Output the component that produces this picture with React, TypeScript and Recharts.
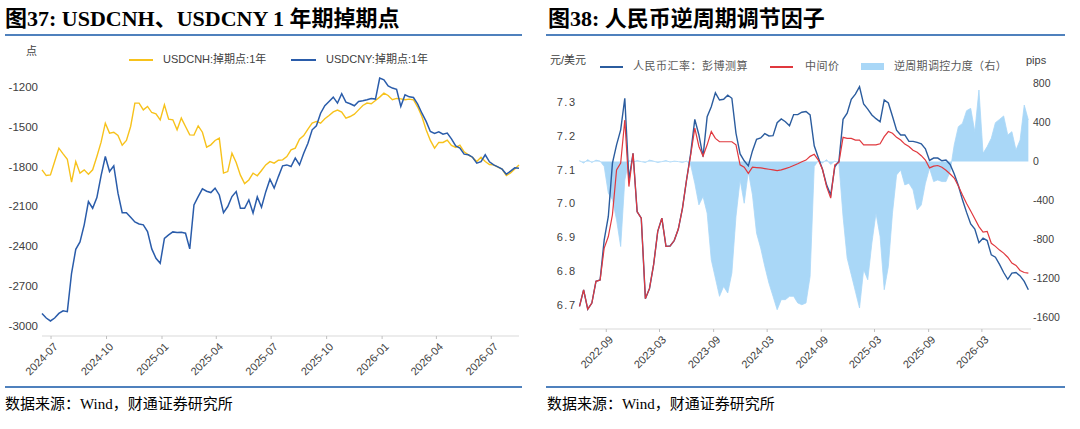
import React from 'react';
import { LineChart, ComposedChart, Line, Area, XAxis, YAxis } from 'recharts';

const DAY = 86400000;
const utc = (s: string) => {
  const [y, m, d] = s.split('-').map(Number);
  return Date.UTC(y, m - 1, d);
};

// ---- 图37: weekly 1y swap points ----
const swapStart = '2024-06-16';
const swapEnd = '2026-08-16';
const swapStepDays = 7;
const swapTicks = ['2024-07-01', '2024-10-01', '2025-01-01', '2025-04-01', '2025-07-01', '2025-10-01', '2026-01-01', '2026-04-01', '2026-07-01'];
const swapYTicks = [-3000, -2700, -2400, -2100, -1800, -1500, -1200];
const usdcnh = [
  -1825, -1868, -1863, -1763, -1662, -1705, -1745, -1918, -1763, -1850,
  -1825, -1858, -1825, -1725, -1617, -1474, -1549, -1542, -1567, -1640,
  -1604, -1499, -1323, -1323, -1374, -1348, -1394, -1404, -1449, -1336,
  -1444, -1449, -1524, -1436, -1499, -1562, -1564, -1494, -1542, -1655,
  -1637, -1604, -1587, -1850, -1838, -1700, -1770, -1865, -1928, -1901,
  -1850, -1870, -1830, -1788, -1763, -1775, -1753, -1750, -1725, -1675,
  -1662, -1594, -1567, -1519, -1474, -1461, -1474, -1441, -1416, -1389,
  -1376, -1391, -1436, -1424, -1406, -1374, -1341, -1323, -1328, -1303,
  -1278, -1248, -1266, -1298, -1288, -1291, -1298, -1293, -1298, -1353,
  -1424, -1524, -1604, -1662, -1619, -1619, -1602, -1642, -1657, -1640,
  -1690, -1712, -1732, -1763, -1730, -1763, -1785, -1788, -1805, -1820,
  -1868, -1848, -1818, -1788,
];
const usdcny = [
  -2905, -2940, -2962, -2940, -2905, -2885, -2892, -2603, -2423, -2367,
  -2239, -2064, -2114, -2034, -1868, -1725, -1838, -1795, -2001, -2147,
  -2147, -2182, -2217, -2232, -2239, -2290, -2420, -2490, -2528, -2340,
  -2315, -2292, -2297, -2295, -2302, -2420, -2089, -2026, -1968, -1986,
  -1996, -1963, -2014, -2147, -2101, -2026, -1988, -2114, -2114, -2051,
  -2150, -2029, -2106, -1991, -1896, -1963, -1876, -1795, -1788, -1800,
  -1737, -1788, -1700, -1625, -1524, -1494, -1399, -1343, -1311, -1278,
  -1323, -1253, -1316, -1328, -1343, -1311, -1306, -1298, -1288, -1293,
  -1135, -1148, -1193, -1210, -1220, -1348, -1261, -1276, -1281, -1331,
  -1399, -1461, -1537, -1552, -1539, -1557, -1549, -1592, -1645, -1662,
  -1707, -1712, -1730, -1775, -1763, -1712, -1765, -1788, -1803, -1820,
  -1858, -1835, -1810, -1813,
];

// ---- 图38: biweekly CNY counter-cyclical factor ----
const ccfStart = '2022-06-02';
const ccfEnd = '2026-08-15';
const ccfStepDays = 14;
const ccfTicks = ['2022-09-01', '2023-03-01', '2023-09-01', '2024-03-01', '2024-09-01', '2025-03-01', '2025-09-01', '2026-03-01'];
const rateTicks = [6.7, 6.8, 6.9, 7.0, 7.1, 7.2, 7.3];
const pipsTicks = [-1600, -1200, -800, -400, 0, 400, 800];
// 人民币汇率：彭博测算
const bbgModel = [
  6.697, 6.746, 6.689, 6.707, 6.771, 6.775, 6.893, 6.962, 7.119, 7.173,
  7.217, 7.310, 7.070, 7.148, 6.976, 6.957, 6.720, 6.750, 6.820, 6.918,
  6.957, 6.874, 6.875, 6.891, 6.925, 6.986, 7.070, 7.148, 7.248, 7.202,
  7.138, 7.256, 7.285, 7.326, 7.305, 7.307, 7.319, 7.310, 7.207, 7.146,
  7.126, 7.111, 7.155, 7.189, 7.193, 7.206, 7.199, 7.200, 7.238, 7.249,
  7.241, 7.229, 7.262, 7.262, 7.269, 7.271, 7.261, 7.170, 7.135, 7.101,
  7.055, 7.025, 7.108, 7.125, 7.248, 7.266, 7.307, 7.322, 7.344, 7.293,
  7.278, 7.261, 7.250, 7.241, 7.305, 7.296, 7.257, 7.216, 7.202, 7.202,
  7.183, 7.183, 7.180, 7.176, 7.161, 7.127, 7.134, 7.134, 7.126, 7.128,
  7.115, 7.087, 7.053, 7.011, 6.974, 6.940, 6.925, 6.885, 6.898, 6.891,
  6.849, 6.842, 6.821, 6.797, 6.777, 6.795, 6.797, 6.787, 6.771, 6.746,
];
// 中间价
const midRate = [
  6.697, 6.746, 6.689, 6.707, 6.771, 6.775, 6.869, 6.903, 6.967, 7.099,
  7.119, 7.246, 7.050, 7.148, 6.976, 6.957, 6.720, 6.750, 6.820, 6.918,
  6.957, 6.874, 6.875, 6.891, 6.925, 6.986, 7.070, 7.143, 7.222, 7.168,
  7.140, 7.173, 7.212, 7.192, 7.182, 7.182, 7.182, 7.182, 7.173, 7.114,
  7.107, 7.089, 7.107, 7.106, 7.105, 7.103, 7.101, 7.099, 7.097, 7.099,
  7.103, 7.107, 7.112, 7.117, 7.123, 7.128, 7.139, 7.145, 7.128, 7.101,
  7.050, 7.016, 7.114, 7.121, 7.195, 7.192, 7.192, 7.187, 7.187, 7.173,
  7.173, 7.173, 7.173, 7.176, 7.197, 7.212, 7.207, 7.195, 7.187, 7.175,
  7.168, 7.157, 7.151, 7.141, 7.128, 7.105, 7.110, 7.112, 7.107, 7.098,
  7.087, 7.075, 7.052, 7.025, 7.000, 6.978, 6.955, 6.932, 6.916, 6.918,
  6.883, 6.874, 6.863, 6.854, 6.842, 6.825, 6.818, 6.803, 6.797, 6.795,
];
// 逆周期调控力度（右）, pips
const ccfPips = [
  10, -15, 20, -10, 15, 5, -51, -324, -392, -597,
  -871, -188, 10, -5, 10, 0, -10, 15, 5, -10,
  0, 10, -5, 5, 0, -10, 5, -34, -222, -444,
  -358, -529, -1007, -1195, -1382, -1280, -1348, -1143, -563, -188,
  -427, -102, -341, -734, -887, -1075, -1246, -1382, -1519, -1416,
  -1416, -1382, -1382, -1450, -1468, -1450, -1177, -51, 10, -15,
  20, -30, 5, -20, -563, -990, -1160, -1331, -1502, -1109,
  -1212, -836, -529, -768, -1314, -1075, -529, -137, -85, -239,
  -222, -290, -495, -444, -222, -68, -205, -188, -205, -205,
  -102, 171, 358, 392, 522, 546, 307, 734, 85, 154,
  239, 399, 433, 468, 273, 307, 119, 222, 580, 427,
];

const swapData = usdcnh.map((v, i) => ({
  t: utc(swapStart) + i * swapStepDays * DAY,
  cnh: v,
  cny: usdcny[i],
}));
const ccfData = midRate.map((v, i) => ({
  t: utc(ccfStart) + i * ccfStepDays * DAY,
  bbg: bbgModel[i],
  mid: v,
  ccf: ccfPips[i],
}));

const SANS = '"Liberation Sans", Arial, "Noto Sans CJK SC", sans-serif';
const SERIF = '"Liberation Serif", "Times New Roman", "Noto Sans CJK SC", serif';
const RULE = '#4f81bd';

function DateTick({ x, y, payload }: any) {
  const d = new Date(payload.value);
  const label = `${d.getUTCFullYear()}-${String(d.getUTCMonth() + 1).padStart(2, '0')}`;
  return (
    <g transform={`translate(${x + 2},${y + 1})`}>
      <text x={0} y={0} dy="0.7em" textAnchor="end" transform="rotate(-45)" fontSize={11} fill="#404040" fontFamily={SANS}>
        {label}
      </text>
    </g>
  );
}

const abs = (left: number, top: number, extra: React.CSSProperties = {}): React.CSSProperties => ({
  position: 'absolute', left, top, whiteSpace: 'nowrap', lineHeight: 1, ...extra,
});

export default function App() {
  return (
    <div style={{ position: 'absolute', left: 0, top: 0, width: 1080, height: 429, background: '#fff', overflow: 'hidden' }}>
      {/* titles */}
      <div style={abs(5, 8, { fontFamily: SERIF, fontWeight: 'bold', fontSize: 22, color: '#000' })}>
        图37: USDCNH、USDCNY 1 年期掉期点
      </div>
      <div style={abs(548, 8, { fontFamily: SERIF, fontWeight: 'bold', fontSize: 22, color: '#000' })}>
        图38: 人民币逆周期调节因子
      </div>
      <div style={abs(5, 34, { width: 517, height: 2, background: RULE })} />
      <div style={abs(546, 34, { width: 519, height: 2, background: RULE })} />
      <div style={abs(5, 386, { width: 517, height: 2, background: RULE })} />
      <div style={abs(546, 386, { width: 519, height: 2, background: RULE })} />
      <div style={abs(5, 397, { fontFamily: SERIF, fontSize: 15, color: '#000' })}>数据来源：Wind，财通证券研究所</div>
      <div style={abs(547, 397, { fontFamily: SERIF, fontSize: 15, color: '#000' })}>数据来源：Wind，财通证券研究所</div>

      {/* left chart labels and legend */}
      <div style={abs(26, 46, { fontFamily: SANS, fontSize: 11, color: '#404040' })}>点</div>
      <div style={abs(129, 59, { width: 24, height: 1.5, background: '#f7c21b' })} />
      <div style={abs(163, 54, { fontFamily: SANS, fontSize: 11, color: '#404040' })}>USDCNH:掉期点:1年</div>
      <div style={abs(291, 59, { width: 25, height: 1.5, background: '#2a5caa' })} />
      <div style={abs(326, 54, { fontFamily: SANS, fontSize: 11, color: '#404040' })}>USDCNY:掉期点:1年</div>

      {/* right chart labels and legend */}
      <div style={abs(550, 55, { fontFamily: SANS, fontSize: 11, color: '#404040' })}>元/美元</div>
      <div style={abs(1026, 55, { fontFamily: SANS, fontSize: 11, color: '#404040' })}>pips</div>
      <div style={abs(600, 66, { width: 23, height: 1.5, background: '#2b5c9e' })} />
      <div style={abs(633, 61, { fontFamily: SANS, fontSize: 11, color: '#595959', letterSpacing: 0.5 })}>人民币汇率：彭博测算</div>
      <div style={abs(770, 66, { width: 23, height: 1.5, background: '#e0383e' })} />
      <div style={abs(805, 61, { fontFamily: SANS, fontSize: 11, color: '#595959', letterSpacing: 0.5 })}>中间价</div>
      <div style={abs(861, 63, { width: 23, height: 7, background: '#a9d7f7' })} />
      <div style={abs(894, 61, { fontFamily: SANS, fontSize: 11, color: '#595959', letterSpacing: 0.3 })}>逆周期调控力度（右）</div>

      {/* 图37 chart */}
      <div style={abs(0, 0)}>
        <LineChart width={540} height={429} data={swapData} margin={{ top: 66, right: 21, bottom: 43, left: 4 }}>
          <XAxis
            dataKey="t"
            type="number"
            domain={[utc(swapStart), utc(swapEnd)]}
            ticks={swapTicks.map(utc)}
            interval={0}
            tick={<DateTick />}
            tickSize={3}
            tickMargin={2}
            tickLine={{ stroke: '#bfbfbf' }}
            axisLine={{ stroke: '#d9d9d9' }}
            height={50}
          />
          <YAxis
            domain={[-3075, -1044]}
            ticks={swapYTicks}
            interval={0}
            width={38}
            axisLine={false}
            tickLine={false}
            tickSize={0}
            tickMargin={4}
            tick={{ fill: '#404040', fontSize: 11.5, fontFamily: SANS }}
          />
          <Line dataKey="cnh" stroke="#f7c21b" strokeWidth={1.4} dot={false} activeDot={false} isAnimationActive={false} />
          <Line dataKey="cny" stroke="#2a5caa" strokeWidth={1.5} dot={false} activeDot={false} isAnimationActive={false} />
        </LineChart>
      </div>

      {/* 图38 chart */}
      <div style={abs(540, 0)}>
        <ComposedChart width={540} height={429} data={ccfData} margin={{ top: 72, right: 9, bottom: 50, left: 4 }}>
          <XAxis
            dataKey="t"
            type="number"
            domain={[utc(ccfStart), utc(ccfEnd)]}
            ticks={ccfTicks.map(utc)}
            interval={0}
            tick={<DateTick />}
            tickSize={3}
            tickMargin={2}
            tickLine={{ stroke: '#bfbfbf' }}
            axisLine={{ stroke: '#d9d9d9' }}
            height={50}
          />
          <YAxis
            yAxisId="left"
            domain={[6.6306, 7.3874]}
            ticks={rateTicks}
            interval={0}
            width={35.5}
            axisLine={false}
            tickLine={false}
            tickSize={0}
            tickMargin={3}
            tickFormatter={(v: number) => v.toFixed(1)}
            tick={{ fill: '#404040', fontSize: 11, fontFamily: SANS, letterSpacing: 1.5 }}
          />
          <YAxis
            yAxisId="right"
            orientation="right"
            domain={[-1717, 919]}
            ticks={pipsTicks}
            interval={0}
            width={40}
            axisLine={false}
            tickLine={false}
            tickSize={0}
            tickMargin={2}
            tick={{ fill: '#404040', fontSize: 10.5, fontFamily: SANS }}
          />
          <Area
            yAxisId="right"
            dataKey="ccf"
            type="linear"
            baseValue={0}
            stroke="#a9d7f7"
            strokeWidth={0.8}
            fill="#a9d7f7"
            fillOpacity={1}
            dot={false}
            activeDot={false}
            isAnimationActive={false}
          />
          <Line yAxisId="left" dataKey="bbg" stroke="#2b5c9e" strokeWidth={1.4} dot={false} activeDot={false} isAnimationActive={false} />
          <Line yAxisId="left" dataKey="mid" stroke="#e0383e" strokeWidth={1.2} dot={false} activeDot={false} isAnimationActive={false} />
        </ComposedChart>
      </div>
    </div>
  );
}
